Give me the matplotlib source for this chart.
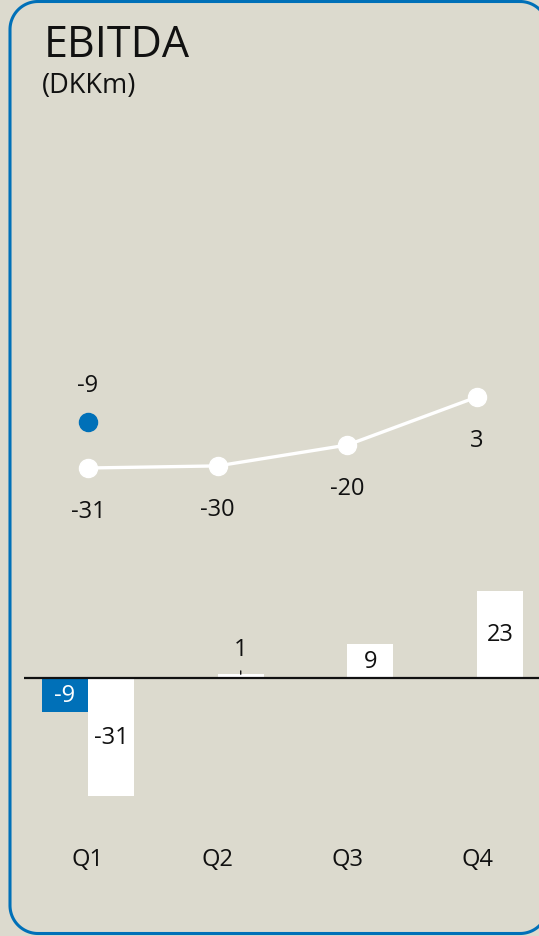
import numpy as np
import matplotlib
matplotlib.use('Agg')
import matplotlib.pyplot as plt

plt.rcParams['font.family'] = ['Open Sans', 'DejaVu Sans']

quarters = ['Q1', 'Q2', 'Q3', 'Q4']
ebitda_cur = [-31, 1, 9, 23]          # quarterly, white bars
ebitda_prev = [-9, None, None, None]  # prior year, blue bar
cum_cur = [-31, -30, -20, 3]          # cumulative line
cum_prev = [-9]                       # prior year cumulative point

bg = '#DCDACE'
blue = '#0070B8'
ink = '#111111'

W, H = 539, 937
fig = plt.figure(figsize=(W / 100, H / 100), dpi=100, facecolor=bg)

# rounded panel border, drawn in a pixel-scaled background axes (y down)
axbg = fig.add_axes([0, 0, 1, 1])
axbg.set_xlim(0, W)
axbg.set_ylim(H, 0)
axbg.axis('off')
bl, bt, br, bb, r = 10, 2.5, 548, 934.5, 28
t = np.linspace(0, np.pi / 2, 30)
px, py = [], []
for cx, cy, a0 in [(br - r, bt + r, -np.pi / 2), (br - r, bb - r, 0),
                   (bl + r, bb - r, np.pi / 2), (bl + r, bt + r, np.pi)]:
    px += list(cx + r * np.cos(a0 + t))
    py += list(cy + r * np.sin(a0 + t))
px.append(px[0])
py.append(py[0])
axbg.plot(px, py, color=blue, lw=2.2, solid_joinstyle='round')

fig.text(44 / W, 1 - 57 / H, 'EBITDA', fontsize=31, va='baseline', ha='left', color=ink)
fig.text(42 / W, 1 - 93 / H, '(DKKm)', fontsize=19.5, va='baseline', ha='left', color=ink)

x = np.arange(len(quarters))
x0, x1 = 24, 539
xl = ((x0 - 88) / 129.7, (x1 - 88) / 129.7)

def axes_px(top, bottom):
    return fig.add_axes([x0 / W, 1 - bottom / H, (x1 - x0) / W, (bottom - top) / H])

# ---- line chart (cumulative)
axl = axes_px(360, 540)
axl.set_facecolor('none')
sc = 2.09
axl.set_xlim(*xl)
axl.set_ylim(-31 - (540 - 469) / sc, -31 + (469 - 360) / sc)
axl.plot(x, cum_cur, color='white', lw=2.4, marker='o', ms=13, zorder=3)
axl.plot(x[:1], cum_prev, color=blue, lw=0, marker='o', ms=13, zorder=3)
for xi, v in zip(x, cum_cur):
    axl.annotate(str(v), (xi, v), xytext=(0, -43), textcoords='offset pixels',
                 ha='center', va='center', fontsize=17, color=ink)
axl.annotate(str(cum_prev[0]), (x[0], cum_prev[0]), xytext=(0, 37), textcoords='offset pixels',
             ha='center', va='center', fontsize=17, color=ink)
axl.axis('off')

# ---- bar chart (quarterly)
axb = axes_px(579, 819)
axb.set_facecolor('none')
bs = 3.8
axb.set_xlim(*xl)
axb.set_ylim(-(819 - 679) / bs, (679 - 579) / bs)
w = 0.355
axb.bar(x + w / 2, ebitda_cur, width=w, color='white', zorder=2)
prev_vals = [v if v is not None else 0 for v in ebitda_prev]
axb.bar(x - w / 2, prev_vals, width=w, color=blue, zorder=2)
axb.axhline(0, color=ink, lw=1.6, zorder=3)

for xi, v in zip(x, ebitda_cur):
    if abs(v) < 3:
        axb.annotate(str(v), (xi + w / 2, v), xytext=(0, 25), textcoords='offset pixels',
                     ha='center', va='center', fontsize=17, color=ink,
                     arrowprops=dict(arrowstyle='-', color=ink, lw=1,
                                     shrinkA=5, shrinkB=0))
    else:
        axb.text(xi + w / 2, v / 2, str(v), ha='center', va='center',
                 fontsize=17, color=ink, zorder=4)
for xi, v in zip(x, ebitda_prev):
    if v is not None:
        axb.text(xi - w / 2, v / 2, str(v), ha='center', va='center',
                 fontsize=17, color='white', zorder=4)

for s in axb.spines.values():
    s.set_visible(False)
axb.set_yticks([])
axb.set_xticks(x)
axb.set_xticklabels(quarters, fontsize=17, color=ink)
axb.tick_params(axis='x', length=0, pad=21)

fig.savefig('out.png', dpi=100, facecolor=bg)
